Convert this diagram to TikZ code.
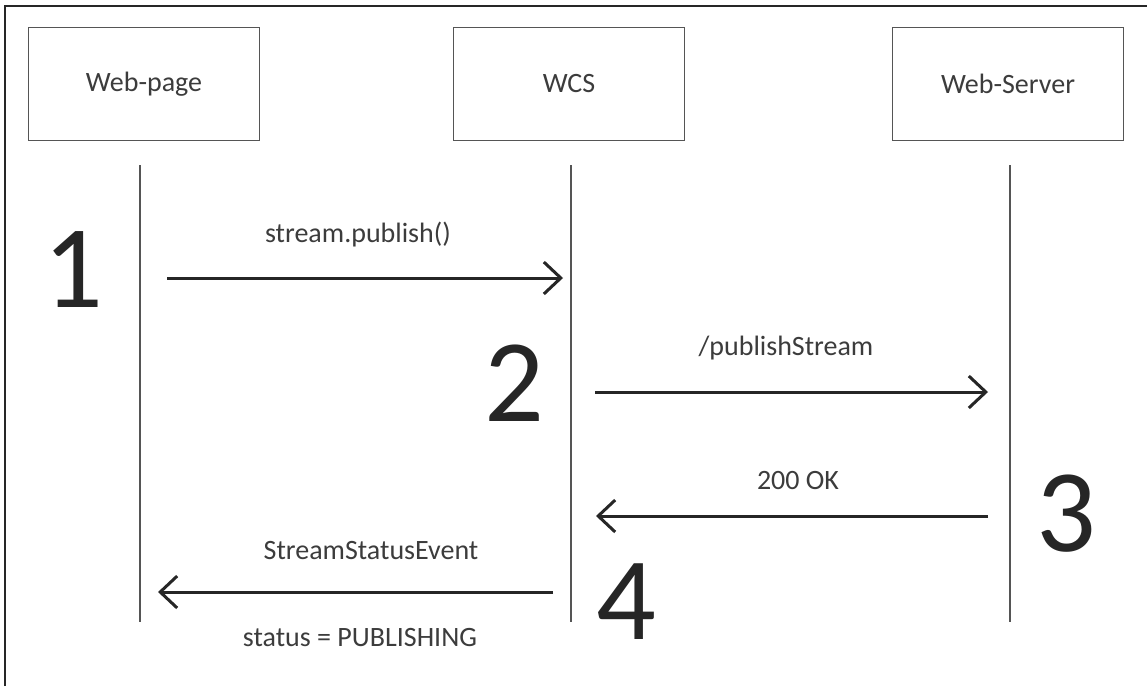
\documentclass[tikz,border=0pt]{standalone}
\usepackage{fontspec}
\setmainfont{Carlito}
\usepackage{xcolor}
\usetikzlibrary{arrows.meta}
\definecolor{txtgray}{HTML}{3C3C3C}
\definecolor{linegray}{HTML}{555555}
\tikzset{
  actor/.style={draw=linegray, line width=1.8pt, minimum width=231pt, minimum height=113pt, inner sep=0pt, font=\fontsize{28}{30}\selectfont, text=txtgray},
  life/.style={draw=linegray, line width=1.8pt},
  msg/.style={draw=black!85, line width=3pt, -{Straight Barb[length=17pt, width=32pt]}},
  lbl/.style={inner sep=0pt, font=\fontsize{28}{30}\selectfont, text=txtgray},
  stepno/.style={inner sep=0pt, font=\fontsize{118}{120}\selectfont, text=black!85}
}
\begin{document}
\begin{tikzpicture}[x=1pt, y=-1pt]
\useasboundingbox (0,0) rectangle (1147,686);
\fill[white] (0,0) rectangle (1147,686);
% frame, only left and top edges show
\draw[line width=2pt, black!85] (5,686)--(5,6)--(1147,6);

\node[actor] (wp) at (144,84) {Web-page};
\node[actor] (wcs) at (569,84) {WCS};
\node[actor] (ws) at (1008,84) {Web-Server};

\foreach \n/\x in {wp/140,wcs/571,ws/1010}
{	\coordinate (\n top) at (\x,165);
	\coordinate (\n bot) at (\x,622);
	\draw[life] (\n top)--(\n bot);
}

% messages
\coordinate (m1a) at (167,278);  \coordinate (m1b) at (563,278);
\coordinate (m2a) at (595,392);  \coordinate (m2b) at (988,392);
\coordinate (m3a) at (988,516);  \coordinate (m3b) at (596,516);
\coordinate (m4a) at (553,592);  \coordinate (m4b) at (158,592);
\draw[msg] (m1a)--(m1b);
\draw[msg] (m2a)--(m2b);
\draw[msg] (m3a)--(m3b);
\draw[msg] (m4a)--(m4b);

\node[lbl] (l1) at (358,235) {stream.publish()};
\node[lbl] (l2) at (786,348) {/publishStream};
\node[lbl] (l3) at (798,480) {200 OK};
\node[lbl] (l4) at (371,551) {StreamStatusEvent};
\node[lbl] (l5) at (360,638) {status = PUBLISHING};

\node[stepno] (s1) at (73,270) {1};
\node[stepno] (s2) at (514,383) {2};
\node[stepno] (s3) at (1066,514) {3};
\node[stepno] (s4) at (626,602) {4};
\end{tikzpicture}
\end{document}
